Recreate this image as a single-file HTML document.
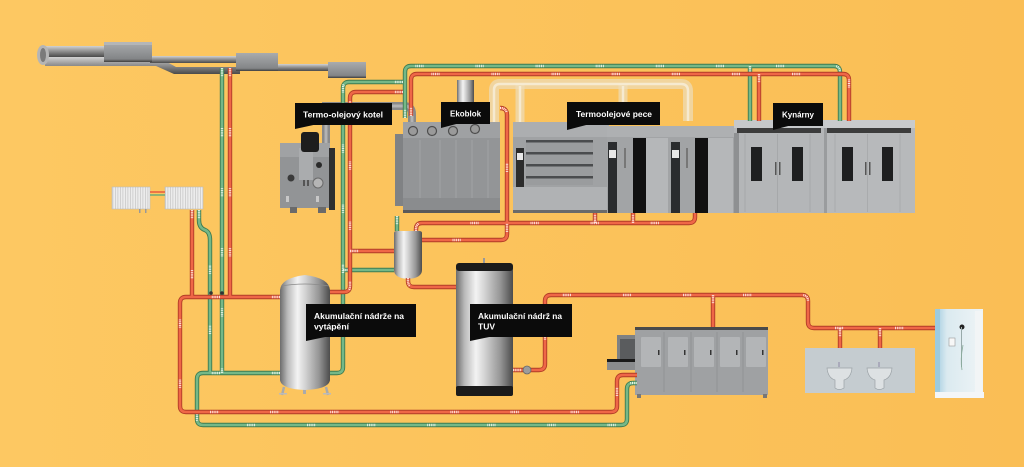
<!DOCTYPE html>
<html><head><meta charset="utf-8"><style>
html,body{margin:0;padding:0;width:1024px;height:467px;overflow:hidden;background:#FBC25A}
svg{display:block}
.lbl{font-family:"Liberation Sans",Arial,sans-serif;font-weight:bold;font-size:8.5px;fill:#fff}
</style></head><body>
<svg width="1024" height="467" viewBox="0 0 1024 467" xmlns="http://www.w3.org/2000/svg">
<defs>
<linearGradient id="bg" x1="0" y1="0" x2="1" y2="0">
<stop offset="0" stop-color="#FDC862"/><stop offset="1" stop-color="#FABE55"/>
</linearGradient>
<linearGradient id="steel" x1="0" y1="0" x2="1" y2="0">
<stop offset="0" stop-color="#6c6c6c"/><stop offset="0.15" stop-color="#b9b9b9"/>
<stop offset="0.35" stop-color="#f3f3f3"/><stop offset="0.5" stop-color="#d4d4d4"/>
<stop offset="0.78" stop-color="#959595"/><stop offset="1" stop-color="#4c4c4c"/>
</linearGradient>
<linearGradient id="tube" x1="0" y1="0" x2="0" y2="1">
<stop offset="0" stop-color="#d2d2d2"/><stop offset="0.4" stop-color="#9a9a9a"/><stop offset="1" stop-color="#4a4a4a"/>
</linearGradient>
<linearGradient id="box" x1="0" y1="0" x2="0" y2="1">
<stop offset="0" stop-color="#a9abad"/><stop offset="0.85" stop-color="#838587"/><stop offset="1" stop-color="#3e3e3e"/>
</linearGradient>
<linearGradient id="glass" x1="0" y1="0" x2="1" y2="0">
<stop offset="0" stop-color="#9fcbe0"/><stop offset="0.25" stop-color="#dbeaf0"/><stop offset="1" stop-color="#eef4f6"/>
</linearGradient>
<pattern id="rad" width="2.5" height="10" patternUnits="userSpaceOnUse">
<rect width="2.5" height="10" fill="#ececec"/><rect width="0.8" height="10" fill="#c9c9c9"/>
</pattern>
<g id="G" fill="none" stroke-linejoin="round">
<path d="M405 118 V72 Q405 66 411 66 H834 Q840 66 840 72 V121"/>
<path d="M750 66 V121"/>
<path d="M403 82 H349 Q343 82 343 88 V367 Q343 373 337 373 H330"/>
<path d="M343 270 H394"/>
<path d="M222 68 V373"/>
<path d="M199 210 V220 Q199 228 205 230 Q210 232 210 240 V373"/>
<path d="M280 373 H203 Q197 373 197 379 V419 Q197 425 203 425 H621 Q627 425 627 419 V389 Q627 383 633 383 H637"/>
<path d="M397 216 V231"/>
</g>
<g id="R" fill="none" stroke-linejoin="round">
<path d="M411 116 V80 Q411 74 417 74 H843 Q849 74 849 80 V121"/>
<path d="M759 74 V121"/>
<path d="M500 108 Q507 108 507 115 V234 Q507 240 501 240 H422"/>
<path d="M416 231 V229 Q416 223 422 223 H689 Q695 223 695 217 V213"/>
<path d="M595 223 V213"/><path d="M633 223 V213"/>
<path d="M403 92 H356 Q350 92 350 98 V286 Q350 292 344 292 H330"/>
<path d="M350 251 H394"/>
<path d="M230 68 V297"/>
<path d="M192 210 V297"/>
<path d="M280 297 H186 Q180 297 180 303 V406 Q180 412 186 412 H611 Q617 412 617 406 V381 Q617 375 623 375 H637"/>
<path d="M408 278 V281 Q408 287 414 287 H456"/>
<path d="M513 370 H539 Q545 370 545 364 V301 Q545 295 551 295 H802 Q808 295 808 301 V322 Q808 328 814 328 H935"/>
<path d="M713 295 V327"/><path d="M840 328 V348"/><path d="M880 328 V348"/>
</g>
</defs>

<rect width="1024" height="467" fill="url(#bg)"/>

<!-- DUCT -->
<g>
<path d="M45 57 H158 L176 67 H240 V74 H174 L156 66 H45 Z" fill="url(#tube)"/>
<rect x="42" y="46" width="66" height="11" fill="url(#tube)"/>
<ellipse cx="43" cy="55" rx="6" ry="10" fill="#b5b5b5"/>
<ellipse cx="43" cy="55" rx="3" ry="7" fill="#7a7a7a"/>
<rect x="150" y="56" width="90" height="7" fill="url(#tube)"/>
<rect x="275" y="64" width="56" height="7" fill="url(#tube)"/>
<rect x="104" y="42" width="48" height="20" fill="url(#box)"/>
<rect x="104" y="42" width="48" height="3" fill="#b4b6b8"/>
<rect x="236" y="53" width="42" height="18" fill="url(#box)"/>
<rect x="328" y="62" width="38" height="16" fill="url(#box)"/>
</g>

<!-- light exhaust tubes over ovens -->
<g fill="none" stroke-linecap="butt">
<path d="M494 122 V90 Q494 84 500 84 H681 Q688 84 688 91 V121" stroke="#eedbb6" stroke-width="10" opacity="0.75"/>
<path d="M520 84 V122 M623 84 V122" stroke="#eedbb6" stroke-width="9" opacity="0.75"/>
<path d="M494 122 V90 Q494 84 500 84 H681 Q688 84 688 91 V121 M520 86 V122 M623 86 V122" stroke="#f8efdc" stroke-width="2.5" opacity="0.8"/>
</g>

<!-- grey tube from boiler to ekoblok -->
<path d="M326 150 V106 H404 Q412 106 412 114 V122" fill="none" stroke="#8a8a8a" stroke-width="8"/>
<path d="M326 150 V106 H404 Q412 106 412 114 V122" fill="none" stroke="#b3b3b3" stroke-width="3"/>

<!-- chimney -->
<rect x="457" y="80" width="17" height="42" fill="url(#steel)"/>

<!-- BOILER -->
<g>
<rect x="280" y="143" width="50" height="65" fill="#929496"/>
<rect x="280" y="143" width="50" height="14" fill="#a0a2a4"/>
<rect x="299" y="148" width="14" height="32" fill="#aaacae"/>
<rect x="329" y="148" width="6" height="62" fill="#2f2f2f"/>
<rect x="301" y="132" width="18" height="20" rx="3" fill="#1d1d1d"/>
<circle cx="291" cy="178" r="3.5" fill="#3a3a3a"/>
<circle cx="319" cy="165" r="3" fill="#2a2a2a"/>
<circle cx="318" cy="183" r="5" fill="#b5b5b5" stroke="#6a6a6a" stroke-width="1"/>
<rect x="303" y="180" width="2" height="6" fill="#555"/><rect x="307" y="180" width="2" height="6" fill="#555"/>
<rect x="286" y="196" width="3" height="6" fill="#c8c8c8"/><rect x="316" y="196" width="3" height="6" fill="#c8c8c8"/>
<rect x="290" y="207" width="7" height="6" fill="#6a6a6a"/><rect x="318" y="207" width="8" height="6" fill="#6a6a6a"/>
</g>

<!-- RADIATORS -->
<rect x="112" y="187" width="38" height="22" fill="url(#rad)" stroke="#bdbdbd" stroke-width="0.6"/>
<rect x="165" y="187" width="38" height="22" fill="url(#rad)" stroke="#bdbdbd" stroke-width="0.6"/>
<rect x="139" y="209" width="1.5" height="4" fill="#999"/><rect x="145" y="209" width="1.5" height="4" fill="#999"/>
<path d="M150 192 H165" stroke="#e85a3c" stroke-width="1.5"/><path d="M150 195 H165" stroke="#69ad79" stroke-width="1.5"/>

<!-- EKOBLOK -->
<g>
<rect x="395" y="134" width="10" height="72" fill="#808284"/>
<rect x="403" y="122" width="97" height="91" fill="#939597"/>
<rect x="403" y="122" width="97" height="16" fill="#9fa1a3"/>
<g fill="#9a9a9a" stroke="#4e4e4e" stroke-width="1.2">
<circle cx="413" cy="131" r="4.5"/><circle cx="432" cy="131" r="4.5"/><circle cx="453" cy="131" r="4.5"/><circle cx="475" cy="129" r="4.5"/>
</g>
<g stroke="#a6a8aa" stroke-width="0.8">
<path d="M420 140 V205 M440 140 V205 M456 140 V205 M472 140 V205 M488 140 V205"/>
</g>
<rect x="403" y="198" width="97" height="12" fill="#8a8c8e"/>
<rect x="403" y="210" width="97" height="3" fill="#5a5a5a"/>
</g>

<!-- OVENS -->
<g>
<rect x="513" y="122" width="96" height="91" fill="#a0a2a4"/>
<rect x="513" y="122" width="96" height="15" fill="#acaeb0"/>
<rect x="526" y="140" width="67" height="45" fill="#9a9c9e"/>
<rect x="526" y="140" width="67" height="2.5" fill="#4a4c4e"/>
<rect x="526" y="152" width="67" height="2.5" fill="#4a4c4e"/>
<rect x="526" y="164" width="67" height="2.5" fill="#4a4c4e"/>
<rect x="526" y="176" width="67" height="2.5" fill="#4a4c4e"/>
<rect x="516" y="148" width="8" height="40" fill="#2c2c2c"/>
<rect x="517" y="153" width="6" height="7" fill="#e8e8e8"/>
<rect x="513" y="187" width="96" height="24" fill="#b0b2b4"/>
<rect x="513" y="210" width="96" height="3" fill="#6a6a6a"/>

<rect x="607" y="126" width="63" height="87" fill="#a2a4a6"/>
<rect x="607" y="126" width="63" height="11" fill="#aeb0b2"/>
<rect x="608" y="142" width="9" height="71" fill="#2a2c2e"/>
<rect x="609" y="150" width="7" height="8" fill="#e8e8e8"/>
<rect x="633" y="138" width="13" height="75" fill="#111"/>
<rect x="646" y="138" width="22" height="75" fill="#b5b7b9"/>
<rect x="624" y="148" width="2" height="20" fill="#777"/>

<rect x="670" y="126" width="65" height="87" fill="#a2a4a6"/>
<rect x="670" y="126" width="65" height="11" fill="#aeb0b2"/>
<rect x="671" y="142" width="9" height="71" fill="#2a2c2e"/>
<rect x="672" y="150" width="7" height="8" fill="#e8e8e8"/>
<rect x="695" y="138" width="13" height="75" fill="#111"/>
<rect x="708" y="138" width="25" height="75" fill="#b5b7b9"/>
<rect x="686" y="148" width="2" height="20" fill="#777"/>
</g>

<!-- KYNARNY -->
<g>
<rect x="734" y="120" width="91" height="93" fill="#b4b6b8"/>
<rect x="734" y="120" width="91" height="8" fill="#c6c8ca"/>
<rect x="737" y="128" width="84" height="5" fill="#3c3c3c"/>
<rect x="734" y="133" width="5" height="80" fill="#8e9092"/>
<rect x="751" y="147" width="11" height="34" fill="#1e1f20"/>
<rect x="792" y="147" width="11" height="34" fill="#1e1f20"/>
<rect x="775" y="162" width="1.5" height="13" fill="#555"/><rect x="779" y="162" width="1.5" height="13" fill="#555"/>
<path d="M745 134 V212 M777.5 134 V212 M810 134 V212" stroke="#a3a5a7" stroke-width="0.8"/>

<rect x="825" y="120" width="90" height="93" fill="#b7b9bb"/>
<rect x="825" y="120" width="90" height="8" fill="#c9cbcd"/>
<rect x="827" y="128" width="84" height="5" fill="#3c3c3c"/>
<rect x="824" y="128" width="3" height="85" fill="#9a9c9e"/>
<rect x="842" y="147" width="11" height="34" fill="#1e1f20"/>
<rect x="882" y="147" width="11" height="34" fill="#1e1f20"/>
<rect x="865" y="162" width="1.5" height="13" fill="#555"/><rect x="869" y="162" width="1.5" height="13" fill="#555"/>
<path d="M835 134 V212 M867.5 134 V212 M900 134 V212" stroke="#a6a8aa" stroke-width="0.8"/>
</g>

<!-- SMALL TANK -->
<path d="M394 233 Q394 231 397 231 H419 Q422 231 422 233 V270 Q422 278 408 279 Q394 278 394 270 Z" fill="url(#steel)"/>

<!-- BIG LEFT TANK -->
<g>
<path d="M284 387 L282 395 M326 387 L328 395" stroke="#aaa" stroke-width="2.5"/>
<rect x="279" y="393" width="8" height="1.5" fill="#bbb"/><rect x="323" y="393" width="8" height="1.5" fill="#bbb"/>
<rect x="303" y="387" width="3" height="7" fill="#aaa"/>
<path d="M280 290 Q281 278 305 275 Q329 278 330 290 V380 Q329 389 305 390 Q281 389 280 380 Z" fill="url(#steel)"/>
<path d="M281 286 Q305 282 329 286" stroke="#8a8a8a" stroke-width="0.8" fill="none"/>
</g>

<!-- TUV TANK -->
<g>
<rect x="483" y="258" width="2" height="7" fill="#999"/>
<rect x="456" y="268" width="57" height="122" fill="url(#steel)"/>
<rect x="456" y="263" width="57" height="8" rx="3" fill="#1b1b1b"/>
<rect x="456" y="386" width="57" height="10" rx="2" fill="#1b1b1b"/>
</g>

<!-- DISHWASHER -->
<g>
<rect x="617" y="335" width="20" height="27" fill="#7f8183"/>
<rect x="620" y="339" width="15" height="20" fill="#5a5c5e"/>
<rect x="607" y="359" width="30" height="3" fill="#1a1a1a"/>
<rect x="607" y="362" width="30" height="8" fill="#8a8c8e"/>
<rect x="635" y="327" width="133" height="68" fill="#9fa1a3"/>
<rect x="635" y="327" width="133" height="3" fill="#4a4a4a"/>
<g fill="#b3b5b7">
<rect x="641" y="337" width="20" height="30" rx="1"/><rect x="668" y="337" width="20" height="30" rx="1"/>
<rect x="694" y="337" width="20" height="30" rx="1"/><rect x="720" y="337" width="20" height="30" rx="1"/>
<rect x="746" y="337" width="20" height="30" rx="1"/>
</g>
<g fill="#333">
<rect x="658" y="350" width="1.5" height="5"/><rect x="684" y="350" width="1.5" height="5"/>
<rect x="710" y="350" width="1.5" height="5"/><rect x="736" y="350" width="1.5" height="5"/>
<rect x="762" y="350" width="1.5" height="5"/>
</g>
<path d="M664 332 V392 M691 332 V392 M717 332 V392 M743 332 V392" stroke="#8e9092" stroke-width="0.8"/>
<rect x="637" y="394" width="4" height="4" fill="#777"/><rect x="763" y="394" width="4" height="4" fill="#777"/>
</g>

<!-- SINKS -->
<g>
<rect x="805" y="348" width="110" height="45" fill="#c5ccd0"/>
<path d="M827 368 H852 Q851 378 844 380 V388 Q839 391 835 388 V380 Q828 378 827 368 Z" fill="#dde1e3" stroke="#9aa1a5" stroke-width="0.7"/>
<path d="M867 368 H892 Q891 378 884 380 V388 Q879 391 875 388 V380 Q868 378 867 368 Z" fill="#dde1e3" stroke="#9aa1a5" stroke-width="0.7"/>
<rect x="838" y="362" width="2" height="5" fill="#aab"/><rect x="878" y="362" width="2" height="5" fill="#aab"/>
</g>

<!-- SHOWER -->
<g>
<rect x="935" y="309" width="48" height="88" fill="url(#glass)"/>
<rect x="935" y="309" width="5" height="88" fill="#9ccbe0"/>
<rect x="975" y="311" width="7" height="84" fill="#f2f5f6"/>
<rect x="935" y="392" width="49" height="6" fill="#f4f6f7"/>
<circle cx="962" cy="327" r="2.5" fill="#222"/>
<rect x="961" y="327" width="1" height="40" fill="#9aa"/>
<rect x="949" y="338" width="6" height="8" fill="#f7f7f7" stroke="#999" stroke-width="0.6"/>
<path d="M963 345 Q960 360 962 370" fill="none" stroke="#8a9" stroke-width="0.8"/>
</g>

<!-- PIPES -->
<use href="#G" stroke="#3d7a50" stroke-width="4.4"/>
<use href="#G" stroke="#75b887" stroke-width="2.6"/>
<use href="#G" stroke="#ffffff" stroke-width="2.4" stroke-dasharray="0.9 0.9 0.9 0.9 0.9 0.9 0.9 0.9 0.9 52" opacity="0.85"/>
<use href="#R" stroke="#b03c26" stroke-width="4.4"/>
<use href="#R" stroke="#ef6747" stroke-width="2.6"/>
<use href="#R" stroke="#ffffff" stroke-width="2.4" stroke-dasharray="0.9 0.9 0.9 0.9 0.9 0.9 0.9 0.9 0.9 52" opacity="0.85"/>

<!-- valves -->
<circle cx="527" cy="370" r="4" fill="#9c9c9c" stroke="#666" stroke-width="0.8"/>
<circle cx="211" cy="293" r="1.8" fill="#333"/><circle cx="222" cy="293" r="1.8" fill="#333"/>

<!-- LABELS -->
<g>
<rect x="295" y="103" width="97" height="22" fill="#0b0b0b"/>
<polygon points="295,124 295,129 318,124" fill="#0b0b0b"/>
<text class="lbl" x="303" y="117.5" textLength="80" lengthAdjust="spacingAndGlyphs">Termo-olejový kotel</text>

<rect x="441" y="102" width="49" height="22" fill="#0b0b0b"/>
<polygon points="441,123 441,128 460,123" fill="#0b0b0b"/>
<text class="lbl" x="450" y="116.5" textLength="31" lengthAdjust="spacingAndGlyphs">Ekoblok</text>

<rect x="567" y="102" width="93" height="23" fill="#0b0b0b"/>
<polygon points="567,124 567,130 590,124" fill="#0b0b0b"/>
<text class="lbl" x="576" y="117" textLength="76" lengthAdjust="spacingAndGlyphs">Termoolejové pece</text>

<rect x="773" y="103" width="50" height="23" fill="#0b0b0b"/>
<polygon points="773,125 773,130 792,125" fill="#0b0b0b"/>
<text class="lbl" x="782" y="117.5" textLength="32" lengthAdjust="spacingAndGlyphs">Kynárny</text>

<rect x="306" y="304" width="110" height="33" fill="#0b0b0b"/>
<polygon points="306,336 306,341 330,336" fill="#0b0b0b"/>
<text class="lbl" x="314" y="319" textLength="90" lengthAdjust="spacingAndGlyphs">Akumulační  nádrže na</text>
<text class="lbl" x="314" y="329.5" textLength="35" lengthAdjust="spacingAndGlyphs">vytápění</text>

<rect x="470" y="304" width="102" height="33" fill="#0b0b0b"/>
<polygon points="470,336 470,341 494,336" fill="#0b0b0b"/>
<text class="lbl" x="478" y="319" textLength="84" lengthAdjust="spacingAndGlyphs">Akumulační nádrž na</text>
<text class="lbl" x="478" y="329.5" textLength="17" lengthAdjust="spacingAndGlyphs">TUV</text>
</g>
</svg>
</body></html>
